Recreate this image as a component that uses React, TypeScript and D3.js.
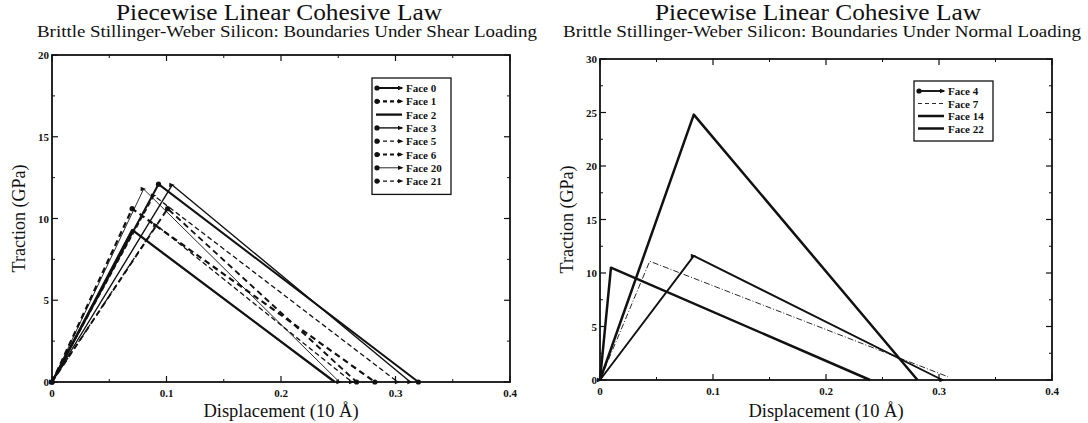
import React from 'react';
import * as d3 from 'd3';

// shear loading panel (left)
const shearFaces = ['Face 0', 'Face 1', 'Face 2', 'Face 3', 'Face 5', 'Face 6', 'Face 20', 'Face 21'];
const shearPeakDisp = [0.093, 0.07, 0.07, 0.105, 0.089, 0.101, 0.08, 0.091];
const shearPeakTraction = [12.1, 10.6, 9.3, 12.05, 11.4, 10.6, 11.8, 9.6];
const shearFinalDisp = [0.32, 0.282, 0.247, 0.313, 0.302, 0.266, 0.251, 0.262];
const shearFinalTraction = [0, 0, 0, 0, 0, 0, 0, 0];

// normal loading panel (right)
const normalFaces = ['Face 4', 'Face 7', 'Face 14', 'Face 22'];
const normalPeakDisp = [0.083, 0.044, 0.083, 0.0097];
const normalPeakTraction = [11.6, 11.1, 24.8, 10.5];
const normalFinalDisp = [0.303, 0.308, 0.281, 0.239];
const normalFinalTraction = [0, 0.3, 0, 0];

type Style = { w: number; dash?: string; mark: 'circle' | 'arrow' | 'none' };

const shearStyles: Style[] = [
  { w: 2, mark: 'circle' },
  { w: 2.2, dash: '6 4', mark: 'circle' },
  { w: 2.3, mark: 'none' },
  { w: 1.4, mark: 'arrow' },
  { w: 1.3, dash: '5 3', mark: 'arrow' },
  { w: 1.9, dash: '6 4', mark: 'circle' },
  { w: 0.9, mark: 'arrow' },
  { w: 1.3, dash: '5 3', mark: 'arrow' },
];
const normalStyles: Style[] = [
  { w: 1.9, mark: 'arrow' },
  { w: 0.9, dash: '6 2 1 2', mark: 'none' },
  { w: 2.5, mark: 'none' },
  { w: 2.5, mark: 'none' },
];

const FONT = "'Liberation Serif', 'Times New Roman', serif";

type PanelProps = {
  x0: number; x1: number; y0: number; y1: number; ymax: number;
  title: string; titleX: number; subtitle: string; subX: number; subLen: number;
  faces: string[]; peakD: number[]; peakT: number[]; finD: number[]; finT: number[];
  styles: Style[];
  legend: { x: number; y: number; w: number; step: number };
};

const Marker = ({ x, y, type }: { x: number; y: number; type: Style['mark'] }) => {
  if (type === 'circle') return <circle cx={x} cy={y} r={2.6} fill="#111" />;
  if (type === 'arrow') return <path d={`M${x - 3},${y - 2.2}L${x + 2.5},${y}L${x - 3},${y + 2.2}Z`} fill="#111" />;
  return null;
};

const Panel = (p: PanelProps) => {
  const x = d3.scaleLinear().domain([0, 0.4]).range([p.x0, p.x1]);
  const y = d3.scaleLinear().domain([0, p.ymax]).range([p.y1, p.y0]);
  const line = d3.line<[number, number]>().x(d => x(d[0])).y(d => y(d[1]));
  const xMajor = d3.range(0, 0.41, 0.1);
  const xMinor = d3.range(0.05, 0.4, 0.1);
  const yMajor = d3.range(0, p.ymax + 0.1, 5);
  const yMinor = d3.range(2.5, p.ymax, 5);
  const cx = (p.x0 + p.x1) / 2;
  const cy = (p.y0 + p.y1) / 2;
  const fmt = (v: number) => (v === 0 ? '0' : d3.format('.1f')(v));

  return (
    <g fontFamily={FONT} fill="#111">
      <text x={p.titleX} y={20} textAnchor="middle" fontSize={23} textLength={326} lengthAdjust="spacingAndGlyphs">{p.title}</text>
      <text x={p.subX} y={37} textAnchor="middle" fontSize={16} textLength={p.subLen} lengthAdjust="spacingAndGlyphs">{p.subtitle}</text>

      {/* ticks on all four sides, pointing inward */}
      {xMajor.map(v => (
        <g key={'xM' + v}>
          <line x1={x(v)} x2={x(v)} y1={p.y1} y2={p.y1 - 6} stroke="#111" strokeWidth={1.2} />
          <line x1={x(v)} x2={x(v)} y1={p.y0} y2={p.y0 + 6} stroke="#111" strokeWidth={1.2} />
          <text x={x(v)} y={p.y1 + 15} textAnchor="middle" fontSize={11} fontWeight="bold">{fmt(v)}</text>
        </g>
      ))}
      {xMinor.map(v => (
        <g key={'xm' + v}>
          <line x1={x(v)} x2={x(v)} y1={p.y1} y2={p.y1 - 3} stroke="#111" />
          <line x1={x(v)} x2={x(v)} y1={p.y0} y2={p.y0 + 3} stroke="#111" />
        </g>
      ))}
      {yMajor.map(v => (
        <g key={'yM' + v}>
          <line x1={p.x0} x2={p.x0 + 6} y1={y(v)} y2={y(v)} stroke="#111" strokeWidth={1.2} />
          <line x1={p.x1} x2={p.x1 - 6} y1={y(v)} y2={y(v)} stroke="#111" strokeWidth={1.2} />
          <text x={p.x0 - 3} y={y(v) + 4} textAnchor="end" fontSize={11} fontWeight="bold">{v}</text>
        </g>
      ))}
      {yMinor.map(v => (
        <g key={'ym' + v}>
          <line x1={p.x0} x2={p.x0 + 3} y1={y(v)} y2={y(v)} stroke="#111" />
          <line x1={p.x1} x2={p.x1 - 3} y1={y(v)} y2={y(v)} stroke="#111" />
        </g>
      ))}
      <rect x={p.x0} y={p.y0} width={p.x1 - p.x0} height={p.y1 - p.y0} fill="none" stroke="#111" strokeWidth={1.8} />

      <text x={cx} y={417} textAnchor="middle" fontSize={18.5}>Displacement (10 Å)</text>
      <text transform={`translate(${p.x0 - 27},${cy}) rotate(-90)`} textAnchor="middle" fontSize={18}>Traction (GPa)</text>

      {/* series */}
      {p.faces.map((f, i) => {
        const pts: [number, number][] = [[0, 0], [p.peakD[i], p.peakT[i]], [p.finD[i], p.finT[i]]];
        const s = p.styles[i];
        return (
          <g key={f}>
            <path d={line(pts) || ''} fill="none" stroke="#111" strokeWidth={s.w} strokeDasharray={s.dash} strokeLinejoin="round" />
            {pts.map((q, j) => <Marker key={j} x={x(q[0])} y={y(q[1])} type={s.mark} />)}
          </g>
        );
      })}

      {/* legend */}
      <rect x={p.legend.x} y={p.legend.y} width={p.legend.w} height={p.faces.length * p.legend.step + 10} fill="#fff" stroke="#111" strokeWidth={1.3} />
      {p.faces.map((f, i) => {
        const ly = p.legend.y + 10 + i * p.legend.step;
        const s = p.styles[i];
        const lx = p.legend.x + 4;
        return (
          <g key={'lg' + f}>
            <line x1={lx} x2={lx + 26} y1={ly} y2={ly} stroke="#111" strokeWidth={s.w} strokeDasharray={s.dash ? '4 3' : undefined} />
            <Marker x={lx + 1} y={ly} type={s.mark === 'none' ? 'none' : 'circle'} />
            <Marker x={lx + 25} y={ly} type={s.mark === 'none' ? 'none' : 'arrow'} />
            <text x={lx + 30} y={ly + 4} fontSize={11} fontWeight="bold">{f}</text>
          </g>
        );
      })}
    </g>
  );
};

export default function App() {
  return (
    <svg width={1088} height={423} style={{ position: 'absolute', left: 0, top: 0, background: '#fff' }}>
      <rect width={1088} height={423} fill="#fff" />
      <Panel
        x0={52} x1={510} y0={55} y1={382} ymax={20}
        title="Piecewise Linear Cohesive Law" titleX={279}
        subtitle="Brittle Stillinger-Weber Silicon: Boundaries Under Shear Loading" subX={287}
        subLen={500}
        faces={shearFaces} peakD={shearPeakDisp} peakT={shearPeakTraction}
        finD={shearFinalDisp} finT={shearFinalTraction} styles={shearStyles}
        legend={{ x: 372, y: 78, w: 79, step: 13.3 }}
      />
      <Panel
        x0={600} x1={1052} y0={59} y1={380} ymax={30}
        title="Piecewise Linear Cohesive Law" titleX={818}
        subtitle="Brittle Stillinger-Weber Silicon: Boundaries Under Normal Loading" subX={822}
        subLen={518}
        faces={normalFaces} peakD={normalPeakDisp} peakT={normalPeakTraction}
        finD={normalFinalDisp} finT={normalFinalTraction} styles={normalStyles}
        legend={{ x: 914, y: 81, w: 79, step: 12.5 }}
      />
    </svg>
  );
}
